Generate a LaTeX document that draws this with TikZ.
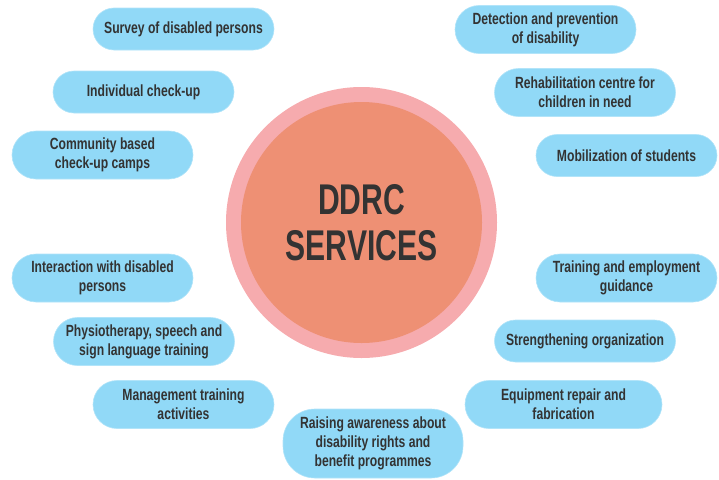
\documentclass[tikz,border=0pt]{standalone}
\usepackage{fontspec}
\setmainfont{Liberation Sans}
\newfontfamily\boxfam[FakeStretch=0.75]{Liberation Sans}
\newfontfamily\titlefam[FakeStretch=0.70]{Liberation Sans}
\definecolor{boxblue}{HTML}{91D9F7}
\definecolor{ringpink}{HTML}{F6ABAE}
\definecolor{corecol}{HTML}{EE9074}
\definecolor{txt}{HTML}{333333}
\tikzset{
  svc/.style={fill=boxblue, draw=boxblue!70!white, line width=0.6pt, rounded corners=21pt,
    minimum width=181pt, minimum height=42pt, align=center, text=txt, inner sep=0pt,
    font=\boxfam\bfseries\fontsize{16.2}{18.9}\selectfont},
  tall/.style={minimum height=48pt, rounded corners=24pt},
  ring/.style={circle, fill=ringpink, minimum size=271pt, inner sep=0pt},
  core/.style={circle, fill=corecol, minimum size=241pt, inner sep=0pt, text=txt, align=center,
    font=\titlefam\bfseries\fontsize{43}{46}\selectfont}
}
\begin{document}
\begin{tikzpicture}[x=1pt,y=-1pt]
\useasboundingbox (0,0) rectangle (719,479);
\node[ring] (ring) at (361.5,222.5) {};
\node[core] (core) at (361.5,222.5) {DDRC\\SERVICES};
\node[svc] (s1) at (183.5,29) {Survey of disabled persons};
\node[svc] (s2) at (143.5,92) {Individual check-up};
\node[svc,tall] (s3) at (102.5,155) {Community based\\check-up camps};
\node[svc,tall] (s4) at (102.5,278) {Interaction with disabled\\persons};
\node[svc,tall] (s5) at (144,341.5) {Physiotherapy, speech and\\sign language training};
\node[svc,tall] (s6) at (183.5,404.5) {Management training\\activities};
\node[svc,minimum height=69pt,minimum width=180pt,rounded corners=32pt] (s7) at (373,443.5) {Raising awareness about\\disability rights and\\benefit programmes};
\node[svc,tall,minimum width=197pt] (s8) at (563.5,404.5) {Equipment repair and\\fabrication};
\node[svc] (s9) at (585,341) {Strengthening organization};
\node[svc,tall] (s10) at (626.5,278) {Training and employment\\guidance};
\node[svc] (s11) at (626.5,155.5) {Mobilization of students};
\node[svc,tall] (s12) at (585,92.5) {Rehabilitation centre for\\children in need};
\node[svc,tall] (s13) at (545.5,29.5) {Detection and prevention\\of disability};
\end{tikzpicture}
\end{document}
